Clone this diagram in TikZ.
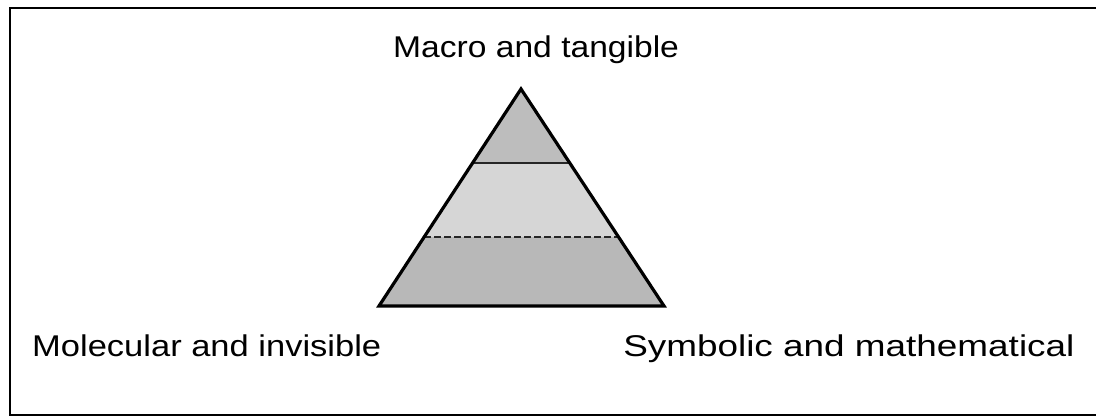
\documentclass[tikz,border=0pt]{standalone}
\usepackage{fontspec}
\setmainfont{Liberation Sans}
\usetikzlibrary{calc}
\begin{document}
\begin{tikzpicture}[x=1pt,y=-1pt,
  label text/.style={inner sep=0pt, font=\fontsize{30}{36}\selectfont, anchor=base west},
  frame line/.style={line width=2.6pt, black},
  tri line/.style={line width=3.2pt, black, line join=miter},
  band line/.style={line width=1.6pt, black!85}]
\useasboundingbox (0,0) rectangle (1096,419);
\fill[white] (0,0) rectangle (1096,419);
% frame (right side lies outside the picture)
\draw[frame line] (1100,8) -- (10,8) -- (10,415) -- (1100,415);
% triangle
\coordinate (apex) at (521,89);
\coordinate (L) at (379,306);
\coordinate (R) at (664,306);
\coordinate (a1) at ($(apex)!0.342!(L)$);
\coordinate (b1) at ($(apex)!0.342!(R)$);
\coordinate (a2) at ($(apex)!0.683!(L)$);
\coordinate (b2) at ($(apex)!0.683!(R)$);
\fill[black!26] (apex) -- (a1) -- (b1) -- cycle;
\fill[black!16] (a1) -- (a2) -- (b2) -- (b1) -- cycle;
\fill[black!28] (a2) -- (L) -- (R) -- (b2) -- cycle;
\draw[band line] (a1) -- (b1);
\draw[band line, dash pattern=on 7pt off 3pt] (a2) -- (b2);
\draw[tri line] (apex) -- (L) -- (R) -- cycle;
% labels
\node[label text, xscale=1.12] (top) at (393,58) {Macro and tangible};
\node[label text, xscale=1.15] (left) at (32,357) {Molecular and invisible};
\node[label text, xscale=1.23] (right) at (623,357) {Symbolic and mathematical};
\end{tikzpicture}
\end{document}
